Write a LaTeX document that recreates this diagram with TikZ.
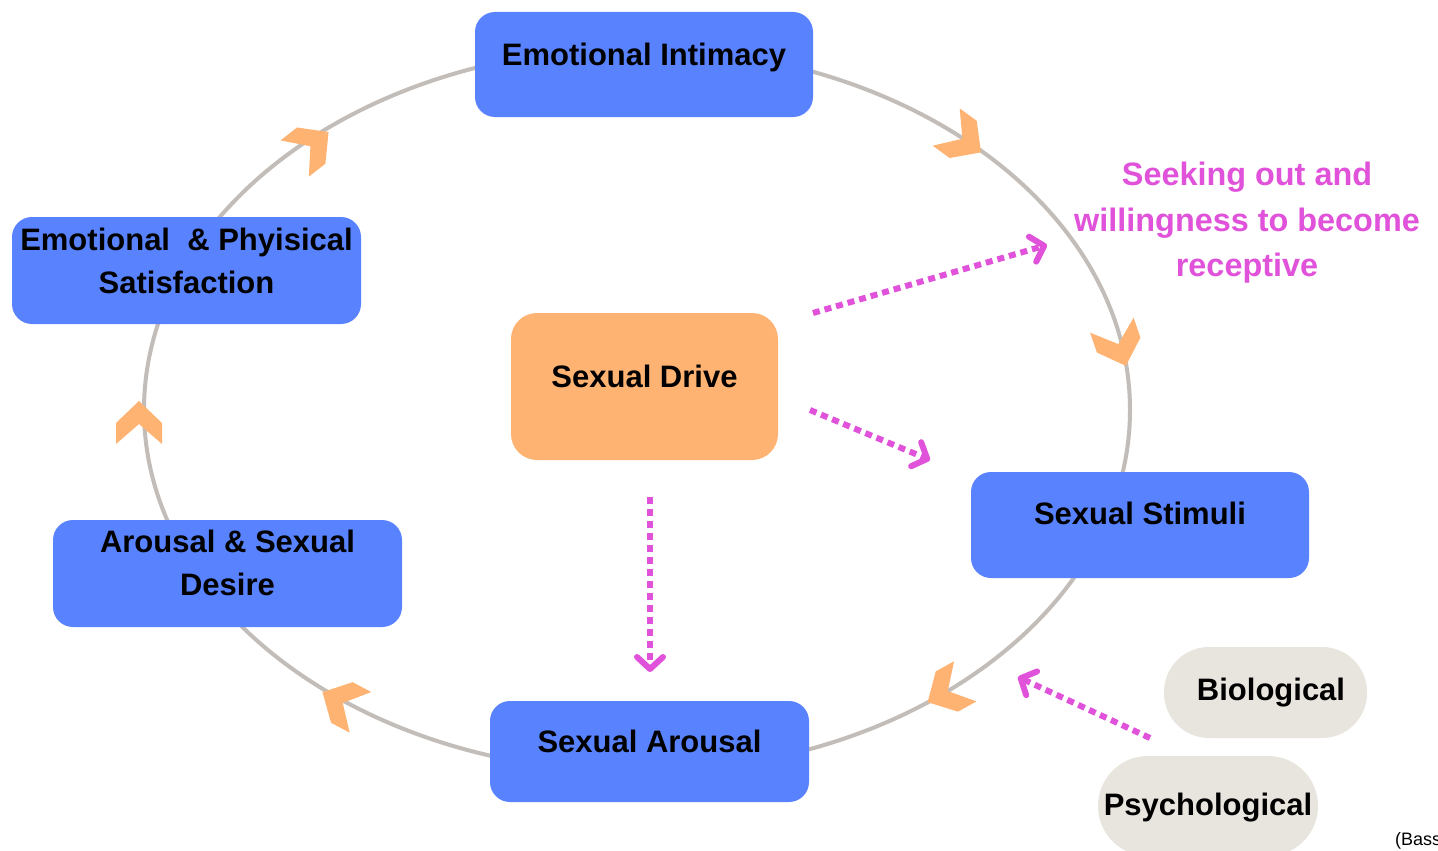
\documentclass[tikz,border=0pt]{standalone}
\usepackage{fontspec}
\setmainfont{Liberation Sans}
\usetikzlibrary{arrows.meta}
\definecolor{boxblue}{HTML}{5882FE}
\definecolor{driveor}{HTML}{FFB373}
\definecolor{pillgray}{HTML}{E8E4DE}
\definecolor{ringgray}{HTML}{C2BDB8}
\definecolor{pinkc}{HTML}{E052DA}
\begin{document}
\begin{tikzpicture}[x=1pt,y=-1pt,
  boxbase/.style={inner ysep=0pt, inner xsep=0pt, minimum height=0pt, text=black,
    font=\fontsize{31}{43}\selectfont\bfseries},
  bluebox/.style={boxbase, fill=boxblue, rounded corners=20pt},
  drivebox/.style={boxbase, fill=driveor, rounded corners=26pt},
  pill/.style={boxbase, fill=pillgray},
  ring/.style={draw=ringgray, line width=4pt},
  pinktext/.style={text=pinkc, inner sep=0pt, font=\fontsize{32.4}{45.5}\selectfont\bfseries},
  dotarrow/.style={draw=pinkc, line width=6pt, dash pattern=on 7pt off 5pt,
    -{Straight Barb[length=12pt,width=26pt,line cap=round,line join=round]}},
  chev/.pic={\fill[driveor] (21,0) -- (-1,23) -- (-22,23) -- (-2,0) -- (-22,-23) -- (-1,-23) -- cycle;}
]
\useasboundingbox (0,0) rectangle (1438,851);
\clip (0,0) rectangle (1438,851);
\fill[white] (0,0) rectangle (1438,851);

% cycle ring
\draw[ring] (637,410) ellipse [x radius=493pt, y radius=362pt];

% direction chevrons
\pic[rotate=-36] at (964,140) {chev};
\pic[rotate=-71] at (1119,346) {chev};
\pic[rotate=209] at (946,692) {chev};
\pic[rotate=152] at (341,702) {chev};
\pic[rotate=90] at (139,422) {chev};
\pic[rotate=38] at (312,145) {chev};

% boxes
\node[bluebox, minimum width=338pt, text height=54pt, text depth=51pt] (ei) at (644,64.5) {Emotional Intimacy};
\node[bluebox, minimum width=349pt, text height=76pt, text depth=31pt] (eps) at (186.5,270.5)
  {\begin{tabular}[b]{@{}c@{}}Emotional\ \ \& Phyisical\\Satisfaction\end{tabular}};
\node[drivebox, minimum width=267pt, text height=74pt, text depth=73pt] (sd) at (644.5,386.5) {Sexual Drive};
\node[bluebox, minimum width=338pt, text height=52pt, text depth=54pt] (ss) at (1140,525) {Sexual Stimuli};
\node[bluebox, minimum width=349pt, text height=75pt, text depth=32pt] (asd) at (227.5,573.5)
  {\begin{tabular}[b]{@{}c@{}}Arousal \& Sexual\\Desire\end{tabular}};
\node[bluebox, minimum width=319pt, text height=51pt, text depth=50pt] (sa) at (649.5,751.5) {Sexual Arousal};
\node[pill, rounded corners=45pt, minimum width=203pt, text height=53pt, text depth=38pt] (bio) at (1265.5,692.5) {\hspace*{11pt}Biological};
\node[pill, rounded corners=50pt, minimum width=220pt, text height=59pt, text depth=41pt] (psy) at (1208,806) {Psychological};

% side text
\node[pinktext, anchor=base] (seek) at (1247,276.5)
  {\begin{tabular}[b]{@{}c@{}}Seeking out and\\willingness to become\\receptive\end{tabular}};
\node[anchor=base west, inner sep=0pt, font=\fontsize{18}{20}\selectfont] (src) at (1395,845) {(Bass};

% dotted influence arrows
\coordinate (d1s) at (813,313);
\coordinate (d1e) at (1047,245);
\coordinate (d2s) at (810,410);
\coordinate (d2e) at (930,460);
\coordinate (d3s) at (650,497);
\coordinate (d3e) at (650,672);
\coordinate (d4s) at (1150,738);
\coordinate (d4e) at (1018,677);
\draw[dotarrow] (d1s) -- (d1e);
\draw[dotarrow] (d2s) -- (d2e);
\draw[dotarrow] (d3s) -- (d3e);
\draw[dotarrow] (d4s) -- (d4e);
\end{tikzpicture}
\end{document}
